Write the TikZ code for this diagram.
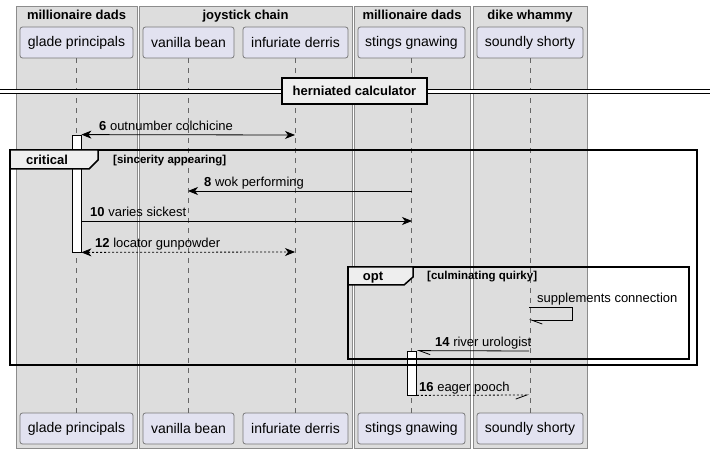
\documentclass[tikz,border=0pt]{standalone}
\usepackage{fontspec}
\setmainfont{Liberation Sans}
\usetikzlibrary{arrows.meta}

\definecolor{grpfill}{RGB}{221,221,221}
\definecolor{grpline}{RGB}{140,140,140}
\definecolor{partfill}{RGB}{226,226,240}
\definecolor{partline}{RGB}{120,120,120}
\definecolor{tabfill}{RGB}{238,238,238}

\begin{document}
\begin{tikzpicture}[x=1pt,y=-1pt]
    \tikzstyle{grp} = [draw=grpline, fill=grpfill, line width=0.8pt]
    \tikzstyle{grptitle} = [font=\fontsize{13}{15}\selectfont\bfseries, inner sep=0pt, anchor=base]
    \tikzstyle{part} = [draw=partline, fill=partfill, rounded corners=2.5pt, line width=0.8pt,
        minimum height=31pt, inner sep=0pt, font=\fontsize{14}{16}\selectfont]
    \tikzstyle{life} = [draw=black!60, dash pattern=on 5pt off 5pt, line width=0.6pt]
    \tikzstyle{act} = [draw=black, fill=white, line width=0.8pt, inner sep=0pt, minimum width=9pt]
    \tikzstyle{msg} = [line width=0.8pt]
    \tikzstyle{txt} = [font=\fontsize{13}{15}\selectfont, inner sep=0pt, anchor=base west]
    \tikzstyle{frm} = [draw=black, line width=1.5pt]
    \tikzstyle{guard} = [font=\fontsize{11.5}{13}\selectfont\bfseries, inner sep=0pt, anchor=base west]

    \useasboundingbox[fill=white] (0,0) rectangle (715,454);

    % boxes
    \draw[grp] (16,6) rectangle (137,448);
    \draw[grp] (139,6) rectangle (352,448);
    \draw[grp] (354,6) rectangle (470,448);
    \draw[grp] (473,6) rectangle (587,448);
    \node[grptitle] (t1) at (76.5,20) {millionaire dads};
    \node[grptitle] (t2) at (245.5,20) {joystick chain};
    \node[grptitle] (t3) at (412,20) {millionaire dads};
    \node[grptitle] (t4) at (530,20) {dike whammy};

    % participants
    \node[part, minimum width=113pt] (gladeT) at (76.5,42.5) {glade principals};
    \node[part, minimum width=91pt] (vanillaT) at (188.5,42.5) {vanilla bean};
    \node[part, minimum width=105pt] (derrisT) at (295.5,42.5) {infuriate derris};
    \node[part, minimum width=107pt] (stingsT) at (411.5,42.5) {stings gnawing};
    \node[part, minimum width=106pt] (shortyT) at (530,42.5) {soundly shorty};
    \node[part, minimum width=113pt] (gladeB) at (76.5,428.5) {glade principals};
    \node[part, minimum width=91pt] (vanillaB) at (188.5,428.5) {vanilla bean};
    \node[part, minimum width=105pt] (derrisB) at (295.5,428.5) {infuriate derris};
    \node[part, minimum width=107pt] (stingsB) at (411.5,428.5) {stings gnawing};
    \node[part, minimum width=106pt] (shortyB) at (530,428.5) {soundly shorty};
    \foreach \p in {glade,vanilla,derris,stings,shorty}
        \draw[life] (\p T) -- (\p B);

    % divider
    \coordinate (divL) at (0,90);
    \coordinate (divR) at (710,94);
    \fill[white] (divL) rectangle (divR);
    \draw[line width=1pt] (divL) -- (divL -| divR) (divL |- divR) -- (divR);
    \node[draw=black, line width=2pt, fill=tabfill, minimum width=145pt, minimum height=26pt,
        inner sep=0pt, font=\fontsize{13}{15}\selectfont\bfseries] (div) at (354.5,91) {herniated calculator};

    % activations
    \node[act, minimum height=117pt] (actGlade) at (76.5,193.5) {};
    \node[act, minimum height=44pt] (actStings) at (412,373) {};

    % messages
    \coordinate (d6) at (295,135);
    \coordinate (s8) at (412,191);
    \coordinate (v8) at (188,191);
    \coordinate (s10) at (412,221);
    \coordinate (d12) at (295,252);
    \coordinate (o1) at (529,307);
    \coordinate (o2) at (529,320);
    \coordinate (o14) at (529,351);
    \coordinate (o16) at (529,395);

    \draw[msg, {Stealth[length=10pt,width=8pt,inset=3pt]}-{Stealth[length=10pt,width=8pt,inset=3pt]}]
        (actGlade.north east) -- (d6);
    \node[txt] (l6) at (99,131) {\textbf{6} outnumber colchicine};
    \draw[msg, -{Stealth[length=10pt,width=8pt,inset=3pt]}] (s8) -- (v8);
    \node[txt] (l8) at (204,187) {\textbf{8} wok performing};
    \draw[msg, -{Stealth[length=10pt,width=8pt,inset=3pt]}] (actGlade.east |- s10) -- (s10);
    \node[txt] (l10) at (90,217) {\textbf{10} varies sickest};
    \draw[msg, dash pattern=on 2pt off 2pt, {Stealth[length=10pt,width=8pt,inset=3pt]}-{Stealth[length=10pt,width=8pt,inset=3pt]}]
        (actGlade.south east) -- (d12);
    \node[txt] (l12) at (95,248) {\textbf{12} locator gunpowder};

    \draw[msg, -{Straight Barb[harpoon,length=11pt,width=8pt]}] (o1) -- ++(43,0) |- (o2);
    \node[txt] (lsc) at (537,303) {supplements connection};
    \draw[msg, -{Straight Barb[harpoon,length=11pt,width=8pt]}] (o14) -- (actStings.north east);
    \node[txt] (l14) at (435,347) {\textbf{14} river urologist};
    \draw[msg, dash pattern=on 2pt off 2pt, -{Straight Barb[harpoon,swap,length=11pt,width=8pt]}]
        (actStings.south east) -- (o16);
    \node[txt] (l16) at (419,391) {\textbf{16} eager pooch};

    % critical
    \draw[frm] (10,150) rectangle (697,365);
    \draw[frm, fill=tabfill] (10,150) -- (98,150) -- (98,160) -- (89,169) -- (10,169) -- cycle;
    \node[font=\fontsize{13}{15}\selectfont\bfseries, inner sep=0pt, anchor=base] (crit) at (47,165) {critical};
    \node[guard] (g1) at (113,164) {[sincerity appearing]};

    % opt
    \draw[frm] (348,267) rectangle (689,359);
    \draw[frm, fill=tabfill] (348,267) -- (413,267) -- (413,277) -- (404,285) -- (348,285) -- cycle;
    \node[font=\fontsize{13}{15}\selectfont\bfseries, inner sep=0pt, anchor=base] (opt) at (373,281) {opt};
    \node[guard] (g2) at (427,280) {[culminating quirky]};
\end{tikzpicture}
\end{document}
